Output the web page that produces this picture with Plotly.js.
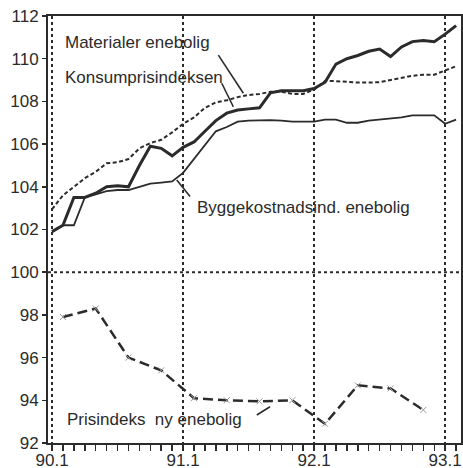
<!DOCTYPE html>
<html>
<head>
<meta charset="utf-8">
<script src="https://cdn.plot.ly/plotly-3.0.1.min.js"></script>
<style>
  html, body { margin: 0; padding: 0; background: #ffffff; }
  #chart { width: 463px; height: 468px; }
</style>
</head>
<body>
<div id="chart"></div>
<script>
// Month index: 0 = 90.1 (Jan 1990) ... 37 = Feb 1993
const monthIdx = [0,1,2,3,4,5,6,7,8,9,10,11,12,13,14,15,16,17,18,19,20,21,22,23,24,25,26,27,28,29,30,31,32,33,34,35,36,37];
const tickPos = [0, 12, 24, 36];
const tickLabels = ['90.1', '91.1', '92.1', '93.1'];

const materialer = [101.9,102.2,103.5,103.5,103.7,104.0,104.05,104.0,105.0,105.9,105.8,105.45,
                    105.85,106.1,106.6,107.1,107.45,107.6,107.65,107.7,108.4,108.5,108.5,108.5,
                    108.6,108.9,109.75,110.0,110.15,110.35,110.45,110.1,110.55,110.8,110.85,110.8,
                    111.15,111.55];
const konsum = [102.95,103.6,104.0,104.4,104.7,105.1,105.15,105.3,105.8,106.05,106.2,106.55,
                106.95,107.25,107.7,107.95,108.05,108.2,108.3,108.35,108.45,108.45,108.35,108.35,
                108.55,108.95,108.95,108.9,108.88,108.88,108.9,109.0,109.1,109.2,109.25,109.25,
                109.45,109.65];
const bygg = [101.9,102.2,102.2,103.5,103.65,103.8,103.85,103.85,104.0,104.15,104.2,104.25,
              104.65,105.3,106.0,106.6,106.8,107.05,107.1,107.12,107.12,107.1,107.05,107.05,
              107.05,107.15,107.15,107.0,107.0,107.1,107.15,107.2,107.25,107.35,107.35,107.35,
              106.95,107.15];
const prisMonths = [1,4,7,10,13,16,19,22,25,28,31,34];
const prisindeks = [97.9,98.3,96.0,95.4,94.1,94.0,93.95,94.0,92.9,94.7,94.55,93.55];

const labels = ['Materialer enebolig', 'Konsumprisindeksen', 'Byggekostnadsind. enebolig', 'Prisindeks  ny enebolig'];

const ink = '#2b2b2b';
const fontFam = 'Liberation Sans, Arial, Helvetica, sans-serif';

const traces = [
  { x: monthIdx, y: bygg, type: 'scatter', mode: 'lines', name: labels[2],
    line: { color: ink, width: 1.8 } },
  { x: monthIdx, y: konsum, type: 'scatter', mode: 'lines', name: labels[1],
    line: { color: ink, width: 2, dash: '4px,2.5px' } },
  { x: monthIdx, y: materialer, type: 'scatter', mode: 'lines', name: labels[0],
    line: { color: ink, width: 3 } },
  { x: prisMonths, y: prisindeks, type: 'scatter', mode: 'lines+markers', name: labels[3],
    line: { color: ink, width: 2.5, dash: '10px,5px' },
    marker: { symbol: 'x-thin-open', size: 6, color: '#999', line: { color: '#999', width: 1 } } }
];

function txt(x, y, t) {
  return { x: x, y: y, xref: 'x', yref: 'y', text: t, showarrow: false,
           xanchor: 'left', yanchor: 'middle', font: { family: fontFam, size: 17, color: ink } };
}
function seg(x0, y0, x1, y1) {
  return { type: 'line', xref: 'x', yref: 'y', x0: x0, y0: y0, x1: x1, y1: y1,
           line: { color: ink, width: 1.6 } };
}

const layout = {
  width: 463, height: 468,
  margin: { l: 48, r: 2, t: 16, b: 25 },
  paper_bgcolor: '#ffffff', plot_bgcolor: '#ffffff',
  showlegend: false,
  font: { family: fontFam, size: 17, color: ink },
  xaxis: {
    range: [-0.37, 37.45],
    tickmode: 'array', tickvals: tickPos, ticktext: tickLabels,
    ticks: 'outside', ticklen: 6, tickwidth: 1.5, tickcolor: ink,
    ticklabelstandoff: -5,
    showline: true, linewidth: 2, linecolor: ink, mirror: true,
    showgrid: true, gridcolor: ink, gridwidth: 1.5, griddash: 'dot',
    zeroline: false,
    minor: { dtick: 1, tick0: 0, ticks: 'outside', ticklen: 6, tickwidth: 1.5, tickcolor: ink, showgrid: false },
    tickfont: { family: fontFam, size: 17, color: ink }
  },
  yaxis: {
    range: [92, 112], tick0: 92, dtick: 2,
    ticks: 'outside', ticklen: 4, tickwidth: 1.5, tickcolor: ink,
    showline: true, linewidth: 2, linecolor: ink, mirror: true,
    showgrid: false, zeroline: false,
    tickfont: { family: fontFam, size: 17, color: ink }
  },
  shapes: [
    { type: 'line', xref: 'paper', yref: 'y', x0: 0, x1: 1, y0: 100, y1: 100,
      line: { color: ink, width: 2, dash: 'dot' }, layer: 'below' },
    seg(15.23, 110.17, 17.52, 108.38),
    seg(15.54, 108.85, 16.6, 107.75),
    seg(11.42, 104.32, 12.64, 103.54),
    seg(18.75, 93.31, 19.96, 93.7)
  ],
  annotations: [
    txt(1.0, 110.74, labels[0]),
    txt(1.0, 109.1, labels[1]),
    txt(13.1, 103.05, labels[2]),
    txt(1.2, 93.08, labels[3])
  ]
};

Plotly.newPlot('chart', traces, layout, { displayModeBar: false, staticPlot: true });
</script>
</body>
</html>
